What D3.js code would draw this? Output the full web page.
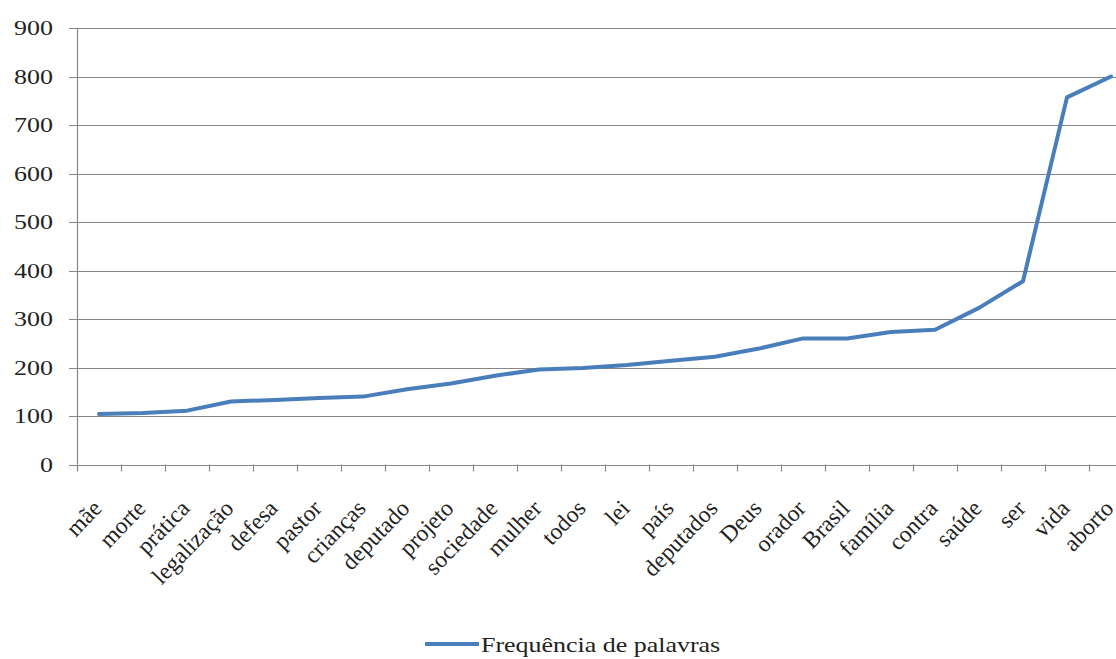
<!DOCTYPE html>
<html>
<head>
<meta charset="utf-8">
<script src="https://cdn.jsdelivr.net/npm/d3@7"></script>
<style>
  html, body { margin: 0; padding: 0; background: #fff; overflow: hidden; }
  svg { display: block; font-family: "Liberation Serif", "Times New Roman", serif; }
</style>
</head>
<body>
<svg id="chart" width="1116" height="659"></svg>
<script>
// Word frequencies, sorted ascending
const categories = ["mãe", "morte", "prática", "legalização", "defesa", "pastor", "crianças",
  "deputado", "projeto", "sociedade", "mulher", "todos", "lei", "país", "deputados", "Deus",
  "orador", "Brasil", "família", "contra", "saúde", "ser", "vida", "aborto"];
const frequencies = [104, 106, 111, 130, 133, 137, 140, 155, 167, 183, 196, 199, 205, 214,
  222, 239, 260, 260, 273, 278, 323, 378, 757, 800];
const yTicks = [0, 100, 200, 300, 400, 500, 600, 700, 800, 900];
const seriesName = "Frequência de palavras";

const W = 1116, H = 659;
const plot = { left: 77, right: 1133, top: 28, bottom: 464.5 };
const lineColor = "#4a7ebb";
const gridColor = "#878787";

const svg = d3.select("#chart");
svg.append("rect").attr("width", W).attr("height", H).attr("fill", "#fff");

const x = d3.scaleBand().domain(categories).range([plot.left, plot.right]).padding(0);
const y = d3.scaleLinear().domain([0, 900]).range([plot.bottom, plot.top]);

// horizontal gridlines with short stubs left of the axis
svg.append("g")
  .selectAll("line")
  .data(yTicks)
  .join("line")
  .attr("x1", plot.left - 8)
  .attr("x2", W)
  .attr("y1", d => Math.round(y(d)) + 0.5)
  .attr("y2", d => Math.round(y(d)) + 0.5)
  .attr("stroke", gridColor)
  .attr("stroke-width", 1.2);

// vertical axis line
svg.append("line")
  .attr("x1", plot.left + 0.5).attr("x2", plot.left + 0.5)
  .attr("y1", y(900)).attr("y2", y(0))
  .attr("stroke", gridColor).attr("stroke-width", 1.2);

// value labels
svg.append("g")
  .selectAll("text")
  .data(yTicks)
  .join("text")
  .attr("transform", d => `translate(53,${y(d) + 7}) scale(1.18,1)`)
  .attr("text-anchor", "end")
  .attr("font-size", 22)
  .attr("fill", "#222")
  .text(d => d);

// tick marks between categories
svg.append("g")
  .selectAll("line")
  .data(categories)
  .join("line")
  .attr("x1", d => Math.round(x(d)) + 0.5)
  .attr("x2", d => Math.round(x(d)) + 0.5)
  .attr("y1", y(0))
  .attr("y2", y(0) + 7)
  .attr("stroke", gridColor)
  .attr("stroke-width", 1.2);

// slanted category labels
svg.append("g")
  .selectAll("text")
  .data(categories)
  .join("text")
  .attr("transform", d => `translate(${x(d) + x.bandwidth() / 2 + 4},${y(0) + 45}) rotate(-46)`)
  .attr("text-anchor", "end")
  .attr("font-size", 23.5)
  .attr("fill", "#222")
  .text(d => d);

// frequency line
const line = d3.line()
  .x((d, i) => x(categories[i]) + x.bandwidth() / 2)
  .y(d => y(d));

svg.append("path")
  .datum(frequencies)
  .attr("d", line)
  .attr("fill", "none")
  .attr("stroke", lineColor)
  .attr("stroke-width", 4)
  .attr("stroke-linejoin", "round")
  .attr("stroke-linecap", "round");

// legend
const lg = svg.append("g");
lg.append("line")
  .attr("x1", 425).attr("x2", 479)
  .attr("y1", 644).attr("y2", 644)
  .attr("stroke", lineColor).attr("stroke-width", 4);
lg.append("text")
  .attr("transform", `translate(481,652) scale(1.18,1)`)
  .attr("font-size", 22)
  .attr("fill", "#222")
  .text(seriesName);
</script>
</body>
</html>
